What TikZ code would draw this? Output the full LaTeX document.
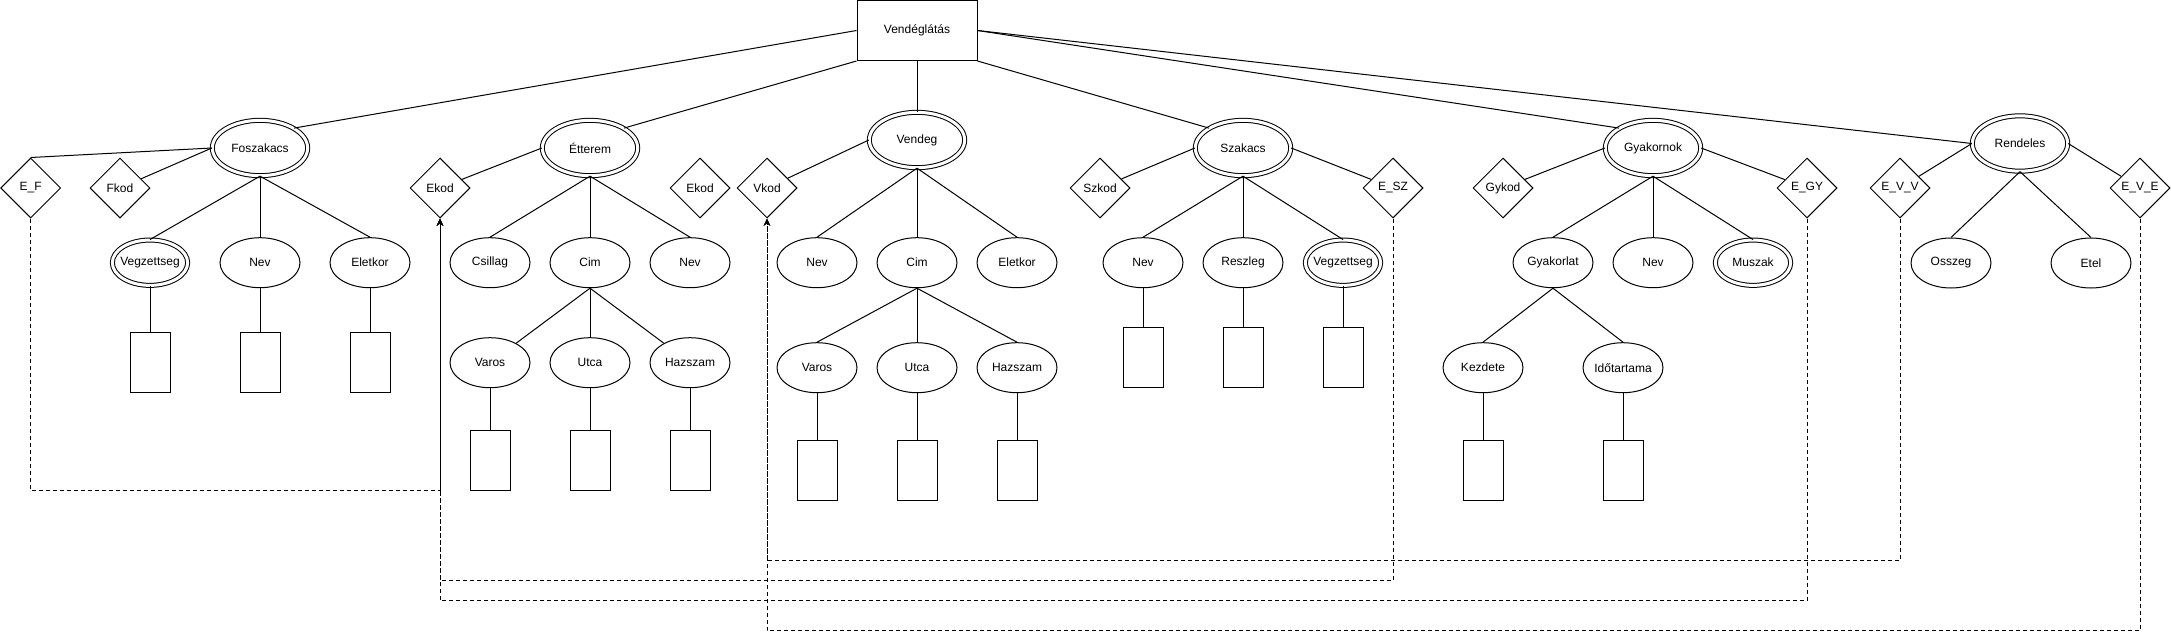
\documentclass[tikz,border=0pt]{standalone}
\usepackage{fontspec}
\setmainfont{Liberation Sans}
\usetikzlibrary{shapes.geometric,arrows.meta}

\begin{document}
\begin{tikzpicture}[x=0.75pt,y=-0.75pt,every node/.style={font=\fontsize{9}{11}\selectfont}]
	% Styles
	\tikzstyle{lien}=[-,line width=0.75pt]
	\tikzstyle{renvoi}=[-{Stealth[length=5.5pt,width=5pt]},line width=0.75pt,dash pattern=on 3pt off 2.25pt]
	\tikzstyle{entite}=[draw,line width=0.75pt,rectangle,minimum width=90pt,minimum height=45pt]
	\tikzstyle{ovaledouble}=[draw,line width=0.75pt,ellipse,double,double distance=2.25pt,minimum width=71.5pt,minimum height=41.5pt,inner sep=0pt]
	\tikzstyle{ovale}=[draw,line width=0.75pt,ellipse,minimum width=60pt,minimum height=37.5pt,inner xsep=-6pt,inner ysep=0pt]
	\tikzstyle{ovalemulti}=[ovale,double,double distance=2.25pt,minimum width=56.5pt,minimum height=34pt]
	\tikzstyle{cle}=[draw,line width=0.75pt,diamond,minimum width=45pt,minimum height=45pt,inner sep=0pt]
	\tikzstyle{caseval}=[draw,line width=0.75pt,rectangle,minimum width=30pt,minimum height=45pt]
	% Dimensions
	\def\NiveauEntites{148}
	\def\NiveauCles{188}
	\def\NiveauAttributs{262.7}
	\useasboundingbox (0,0) rectangle (2171,639);
	% Noeuds
	\node[entite] (V) at (917,30.5) {Vendéglátás};
	%
	\node[ovaledouble] (Foszakacs) at (260,{\NiveauEntites}) {Foszakacs};
	\node[cle] (EF) at (30.7,{\NiveauCles}) {E\_F};
	\node[cle] (Fkod) at (120,{\NiveauCles}) {Fkod};
	\node[ovalemulti] (FVeg) at (150,{\NiveauAttributs}) {Vegzettseg};
	\node[ovale] (FNev) at (260,{\NiveauAttributs}) {Nev};
	\node[ovale] (FEletkor) at (370,{\NiveauAttributs}) {Eletkor};
	\node[caseval] (FVegV) at (150,362.5) {};
	\node[caseval] (FNevV) at (260,362.5) {};
	\node[caseval] (FEletkorV) at (370,362.5) {};
	%
	\node[ovaledouble] (Etterem) at (590,{\NiveauEntites}) {Étterem};
	\node[cle] (Ekod) at (440,{\NiveauCles}) {Ekod};
	\node[cle] (EkodB) at (700,{\NiveauCles}) {Ekod};
	\node[ovale] (ECsillag) at (490,{\NiveauAttributs}) {Csillag};
	\node[ovale] (ECim) at (590,{\NiveauAttributs}) {Cim};
	\node[ovale] (ENev) at (690,{\NiveauAttributs}) {Nev};
	\node[ovale] (EVaros) at (490,362.7) {Varos};
	\node[ovale] (EUtca) at (590,362.7) {Utca};
	\node[ovale] (EHazszam) at (690,362.7) {Hazszam};
	\node[caseval] (EVarosV) at (490,460) {};
	\node[caseval] (EUtcaV) at (590,460) {};
	\node[caseval] (EHazszamV) at (690,460) {};
	%
	\node[ovaledouble] (Vendeg) at (917,140) {Vendeg};
	\node[cle] (Vkod) at (767,{\NiveauCles}) {Vkod};
	\node[ovale] (VNev) at (817,{\NiveauAttributs}) {Nev};
	\node[ovale] (VCim) at (917,{\NiveauAttributs}) {Cim};
	\node[ovale] (VEletkor) at (1017,{\NiveauAttributs}) {Eletkor};
	\node[ovale] (VVaros) at (817,367.7) {Varos};
	\node[ovale] (VUtca) at (917,367.7) {Utca};
	\node[ovale] (VHazszam) at (1017,367.7) {Hazszam};
	\node[caseval] (VVarosV) at (817,470) {};
	\node[caseval] (VUtcaV) at (917,470) {};
	\node[caseval] (VHazszamV) at (1017,470) {};
	%
	\node[ovaledouble] (Szakacs) at (1243,{\NiveauEntites}) {Szakacs};
	\node[cle] (Szkod) at (1100,{\NiveauCles}) {Szkod};
	\node[cle] (ESZ) at (1393,{\NiveauCles}) {E\_SZ};
	\node[ovale] (SNev) at (1143,{\NiveauAttributs}) {Nev};
	\node[ovale] (SReszleg) at (1243,{\NiveauAttributs}) {Reszleg};
	\node[ovalemulti] (SVeg) at (1343,{\NiveauAttributs}) {Vegzettseg};
	\node[caseval] (SNevV) at (1143,357.7) {};
	\node[caseval] (SReszlegV) at (1243,357.7) {};
	\node[caseval] (SVegV) at (1343,357.7) {};
	%
	\node[ovaledouble] (Gyakornok) at (1653,{\NiveauEntites}) {Gyakornok};
	\node[cle] (Gykod) at (1503,{\NiveauCles}) {Gykod};
	\node[cle] (EGY) at (1807,{\NiveauCles}) {E\_GY};
	\node[ovale] (GyGyakorlat) at (1553,{\NiveauAttributs}) {Gyakorlat};
	\node[ovale] (GyNev) at (1653,{\NiveauAttributs}) {Nev};
	\node[ovalemulti] (GyMuszak) at (1753,{\NiveauAttributs}) {Muszak};
	\node[ovale] (GyKezdete) at (1483,367.7) {Kezdete};
	\node[ovale] (GyIdotartama) at (1623,367.7) {Időtartama};
	\node[caseval] (GyKezdeteV) at (1483,470) {};
	\node[caseval] (GyIdotartamaV) at (1623,470) {};
	%
	\node[ovaledouble] (Rendeles) at (2020,143.5) {Rendeles};
	\node[cle] (EVV) at (1900,{\NiveauCles}) {E\_V\_V};
	\node[cle] (EVE) at (2140,{\NiveauCles}) {E\_V\_E};
	\node[ovale] (ROsszeg) at (1951,263) {Osszeg};
	\node[ovale] (REtel) at (2091,263) {Etel};
	% Arcs
	\draw[lien] (V.west)--(Foszakacs.north east);
	\draw[lien] (V.south west)--(Etterem.north east);
	\draw[lien] (V.south)--(Vendeg.north);
	\draw[lien] (V.south east)--(Szakacs.north west);
	\draw[lien] (V.east)--(Gyakornok.north west);
	\draw[lien] (V.east)--(Rendeles.west);
	%
	\draw[lien] (Foszakacs.west)--(EF.north);
	\draw[lien] (Foszakacs.west)--(Fkod);
	\foreach \a in {FVeg,FNev,FEletkor}
		{\draw[lien] (Foszakacs.south)--(\a.north);
		 \draw[lien] (\a.south)--(\a V.north);}
	%
	\draw[lien] (Etterem.west)--(Ekod);
	\foreach \a in {ECsillag,ECim,ENev}
		\draw[lien] (Etterem.south)--(\a.north);
	\draw[lien] (ECim.south)--(EVaros);
	\draw[lien] (ECim.south)--(EUtca.north);
	\draw[lien] (ECim.south)--(EHazszam);
	\foreach \a in {EVaros,EUtca,EHazszam}
		\draw[lien] (\a.south)--(\a V.north);
	%
	\draw[lien] (Vendeg.west)--(Vkod);
	\foreach \a in {VNev,VCim,VEletkor}
		\draw[lien] (Vendeg.south)--(\a.north);
	\foreach \a in {VVaros,VUtca,VHazszam}
		{\draw[lien] (VCim.south)--(\a.north);
		 \draw[lien] (\a.south)--(\a V.north);}
	%
	\draw[lien] (Szakacs.west)--(Szkod);
	\draw[lien] (Szakacs.east)--(ESZ);
	\foreach \a in {SNev,SReszleg,SVeg}
		{\draw[lien] (Szakacs.south)--(\a.north);
		 \draw[lien] (\a.south)--(\a V.north);}
	%
	\draw[lien] (Gyakornok.west)--(Gykod);
	\draw[lien] (Gyakornok.east)--(EGY);
	\foreach \a in {GyGyakorlat,GyNev,GyMuszak}
		\draw[lien] (Gyakornok.south)--(\a.north);
	\foreach \a in {GyKezdete,GyIdotartama}
		{\draw[lien] (GyGyakorlat.south)--(\a.north);
		 \draw[lien] (\a.south)--(\a V.north);}
	%
	\draw[lien] (Rendeles.west)--(EVV);
	\draw[lien] (Rendeles.east)--(EVE);
	\draw[lien] (Rendeles.south)--(ROsszeg.north);
	\draw[lien] (Rendeles.south)--(REtel.north);
	% Renvois (pointilles)
	\draw[renvoi] (EF.south)--++(0,272)-|(Ekod.south);
	\draw[renvoi] (ESZ.south)--++(0,362)-|(Ekod.south);
	\draw[renvoi] (EGY.south)--++(0,382)-|(Ekod.south);
	\draw[renvoi] (EVV.south)--++(0,342)-|(Vkod.south);
	\draw[renvoi] (EVE.south)--++(0,412)-|(Vkod.south);
\end{tikzpicture}
\end{document}
